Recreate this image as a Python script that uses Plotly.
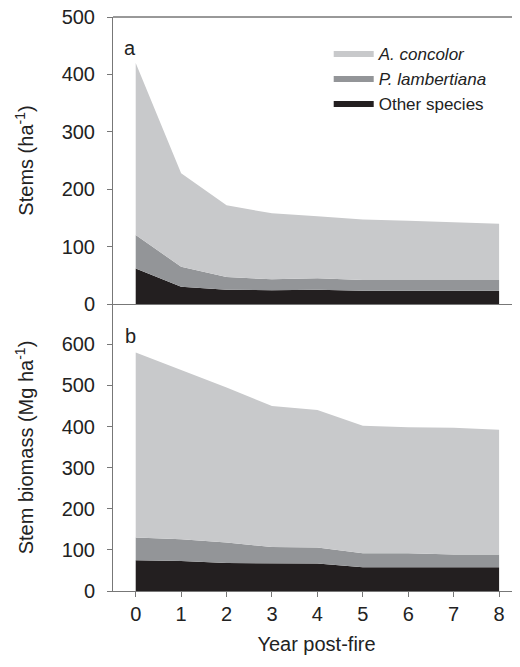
import plotly.graph_objects as go
from plotly.subplots import make_subplots

years = [0, 1, 2, 3, 4, 5, 6, 7, 8]
# Stems (ha-1), per species
stems_other = [62, 30, 25, 24, 25, 23, 23, 23, 23]
stems_plam = [58, 35, 22, 19, 20, 19, 19, 19, 19]
stems_acon = [300, 163, 125, 115, 108, 105, 103, 101, 98]
# Stem biomass (Mg ha-1), per species
bio_other = [75, 73, 68, 67, 67, 58, 58, 58, 58]
bio_plam = [55, 53, 50, 40, 39, 34, 34, 31, 31]
bio_acon = [450, 412, 377, 343, 334, 310, 306, 308, 303]

species = ["Other species", "<i>P. lambertiana</i>", "<i>A. concolor</i>"]
colors = ["#231f20", "#939598", "#c8c9cb"]

FONT = "Arial, Liberation Sans, sans-serif"
AX = "#777777"
TXT = "#222222"

fig = make_subplots(rows=2, cols=1, shared_xaxes=True, vertical_spacing=0)

for row, series in ((1, [stems_other, stems_plam, stems_acon]), (2, [bio_other, bio_plam, bio_acon])):
    for name, vals, col in zip(species, series, colors):
        fig.add_trace(go.Scatter(
            x=years, y=vals, name=name, mode="lines",
            stackgroup=f"s{row}", line=dict(width=0, color=col),
            fillcolor=col, showlegend=(row == 1), legendgroup=name,
        ), row=row, col=1)

fig.update_xaxes(range=[-0.5, 8.46], showgrid=False, zeroline=False,
                 showline=True, linecolor=AX, linewidth=1, automargin=False,
                 tickvals=years, ticks="outside", ticklen=5, tickcolor=AX,
                 ticklabeloverflow="allow", tickfont=dict(size=20, color=TXT))
fig.update_xaxes(showticklabels=False, ticks="", mirror=False, row=1, col=1)
fig.update_xaxes(title=dict(text="Year post-fire", font=dict(size=20, color=TXT), standoff=12),
                 row=2, col=1)

fig.update_yaxes(showgrid=False, zeroline=False, showline=True, linecolor=AX,
                 linewidth=1, ticks="outside", ticklen=5, tickcolor=AX, automargin=False,
                 ticklabeloverflow="allow", tickfont=dict(size=20, color=TXT),
                 ticklabelstandoff=8)
fig.update_yaxes(range=[0, 500], tickvals=[0, 100, 200, 300, 400, 500], row=1, col=1,
                 title=dict(text="Stems (ha<sup>-1</sup>)", font=dict(size=20, color=TXT), standoff=22))
fig.update_yaxes(range=[0, 698], tickvals=[0, 100, 200, 300, 400, 500, 600], row=2, col=1,
                 title=dict(text="Stem biomass (Mg ha<sup>-1</sup>)", font=dict(size=20, color=TXT), standoff=22))

# top border line
fig.add_shape(type="line", xref="paper", yref="paper", x0=0, x1=1, y0=1, y1=1,
              line=dict(color="#333", width=1))

fig.add_annotation(text="a", x=-0.13, y=446, xref="x", yref="y", showarrow=False,
                   font=dict(size=20, color=TXT))
fig.add_annotation(text="b", x=-0.11, y=620, xref="x2", yref="y2", showarrow=False,
                   font=dict(size=20, color=TXT))

# page body has an 8px margin; size the figure to fit the 520x667 window
fig.update_layout(
    width=512, height=659,
    margin=dict(l=105, r=0, t=9, b=76),
    plot_bgcolor="white", paper_bgcolor="white",
    font=dict(family=FONT, color=TXT),
    legend=dict(x=0.53, y=0.968, xanchor="left", yanchor="top",
                traceorder="reversed", font=dict(size=17, color=TXT),
                bgcolor="rgba(0,0,0,0)", tracegroupgap=0, itemwidth=40),
)

fig.write_html("out.html")
